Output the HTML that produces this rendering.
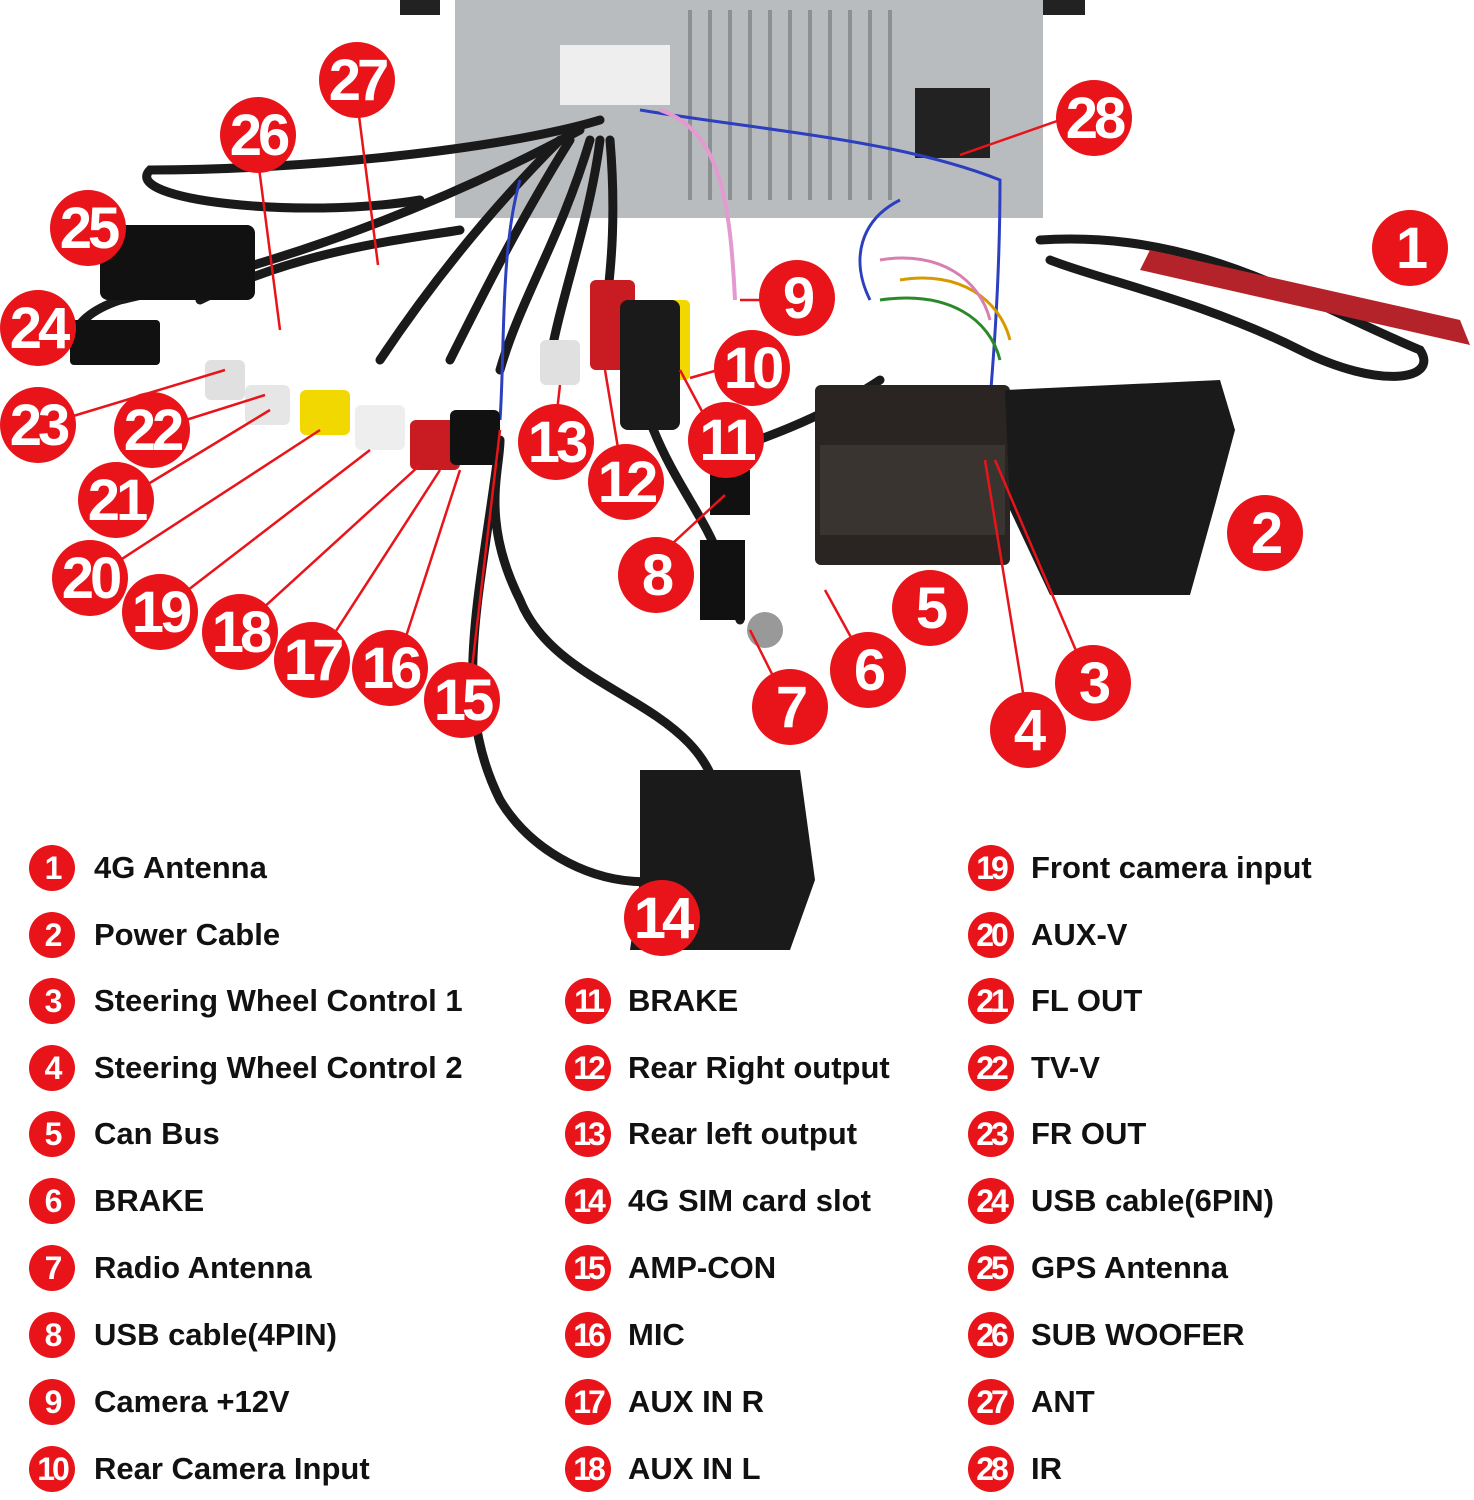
<!DOCTYPE html>
<html><head><meta charset="utf-8"><style>
html,body{margin:0;padding:0;background:#fff;}
body{width:1474px;height:1500px;position:relative;overflow:hidden;font-family:"Liberation Sans",sans-serif;}
svg{position:absolute;left:0;top:0;}
.lg{position:absolute;font-weight:bold;font-size:31px;color:#111;white-space:nowrap;transform:scaleX(1.0);transform-origin:left center;line-height:36px;}
.c{position:absolute;width:46px;height:46px;border-radius:50%;background:#e8141a;color:#fff;font-weight:bold;font-size:32px;text-align:center;line-height:46px;letter-spacing:-3px;}
</style></head><body>
<svg width="1474" height="1500" viewBox="0 0 1474 1500">
<rect x="400" y="0" width="40" height="15" fill="#222"/>
<rect x="1040" y="0" width="45" height="15" fill="#222"/>
<rect x="455" y="0" width="588" height="218" fill="#b9bcbf"/>
<g stroke="#8d9093" stroke-width="4">
<line x1="690" y1="10" x2="690" y2="200"/><line x1="710" y1="10" x2="710" y2="200"/><line x1="730" y1="10" x2="730" y2="200"/>
<line x1="750" y1="10" x2="750" y2="200"/><line x1="770" y1="10" x2="770" y2="200"/><line x1="790" y1="10" x2="790" y2="200"/>
<line x1="810" y1="10" x2="810" y2="200"/><line x1="830" y1="10" x2="830" y2="200"/><line x1="850" y1="10" x2="850" y2="200"/>
<line x1="870" y1="10" x2="870" y2="200"/><line x1="890" y1="10" x2="890" y2="200"/>
</g>
<rect x="915" y="88" width="75" height="70" fill="#222"/>
<rect x="560" y="45" width="110" height="60" fill="#eee"/>
<g fill="none" stroke="#1a1a1a" stroke-width="9" stroke-linecap="round">
<path d="M600 120 C500 150 300 170 150 170 C120 200 300 220 420 200"/>
<path d="M580 130 C450 200 300 260 120 300 C60 320 60 360 120 360"/>
<path d="M560 140 C480 220 420 300 380 360"/>
<path d="M570 140 C520 220 480 300 450 360"/>
<path d="M590 140 C560 240 520 300 500 370"/>
<path d="M600 140 C590 220 560 300 550 360"/>
<path d="M610 140 C620 260 600 320 610 300"/>
<path d="M500 440 C480 600 450 700 500 800 C560 900 720 910 720 820 C720 700 560 700 520 600 C480 520 500 470 500 440"/>
<path d="M630 330 C640 450 700 500 720 560 L740 620"/>
<path d="M1040 240 C1200 230 1300 300 1420 350 C1440 380 1380 390 1300 350 C1200 300 1100 280 1050 260"/>
<path d="M200 300 C300 250 400 240 460 230"/>
<path d="M700 460 C760 440 820 420 880 380"/>
</g>
<g fill="none" stroke="#2b3fbf" stroke-width="3">
<path d="M640 110 C760 130 900 140 1000 180 C1000 300 990 400 985 460"/>
<path d="M900 200 C860 220 850 260 870 300"/>
<path d="M520 180 C500 250 505 350 500 420"/>
</g>
<g fill="none" stroke-width="3"><path d="M900 280 C960 270 1000 300 1010 340" stroke="#d59a00"/><path d="M880 300 C950 290 990 320 1000 360" stroke="#2a8a2a"/><path d="M880 260 C940 250 980 280 990 320" stroke="#d77fb0"/></g>
<path d="M660 110 C720 130 730 200 735 300" stroke="#e49ad0" stroke-width="4" fill="none"/>
<path d="M1150 250 L1460 320 L1470 345 L1140 270 Z" fill="#b4232a"/>
<rect x="100" y="225" width="155" height="75" rx="8" fill="#111"/>
<rect x="70" y="320" width="90" height="45" rx="4" fill="#111"/>
<rect x="815" y="385" width="195" height="180" rx="6" fill="#2a2522"/>
<rect x="820" y="445" width="185" height="90" fill="#3a3431"/>
<path d="M1005 390 L1220 380 L1235 430 L1215 505 L1190 595 L1050 595 L1010 510 Z" fill="#1a1a1a"/>
<g>
<rect x="205" y="360" width="40" height="40" rx="6" fill="#e0e0e0"/>
<rect x="245" y="385" width="45" height="40" rx="6" fill="#e6e6e6"/>
<rect x="300" y="390" width="50" height="45" rx="6" fill="#f0d800"/>
<rect x="355" y="405" width="50" height="45" rx="6" fill="#eee"/>
<rect x="410" y="420" width="50" height="50" rx="6" fill="#c81b22"/>
<rect x="450" y="410" width="50" height="55" rx="6" fill="#111"/>
<rect x="540" y="340" width="40" height="45" rx="6" fill="#e0e0e0"/>
<rect x="590" y="280" width="45" height="90" rx="6" fill="#c81b22"/>
<rect x="660" y="300" width="30" height="80" rx="5" fill="#f0d800"/>
<rect x="620" y="300" width="60" height="130" rx="8" fill="#1a1a1a"/>
<rect x="700" y="540" width="45" height="80" fill="#111"/>
<circle cx="765" cy="630" r="18" fill="#999"/>
<rect x="710" y="470" width="40" height="45" fill="#111"/>
</g>
<path d="M640 770 L800 770 L815 880 L790 950 L630 950 L640 880 Z" fill="#1a1a1a"/>
<g stroke="#e8141a" stroke-width="2.5" fill="none">
<line x1="357" y1="100" x2="378" y2="265"/><line x1="258" y1="160" x2="280" y2="330"/>
<line x1="60" y1="420" x2="225" y2="370"/><line x1="170" y1="425" x2="265" y2="395"/>
<line x1="130" y1="495" x2="270" y2="410"/><line x1="105" y1="570" x2="320" y2="430"/>
<line x1="175" y1="600" x2="370" y2="450"/><line x1="250" y1="620" x2="420" y2="465"/>
<line x1="325" y1="648" x2="440" y2="470"/><line x1="400" y1="655" x2="460" y2="470"/>
<line x1="470" y1="685" x2="500" y2="430"/><line x1="556" y1="420" x2="560" y2="385"/>
<line x1="620" y1="460" x2="605" y2="370"/><line x1="712" y1="430" x2="680" y2="370"/>
<line x1="725" y1="368" x2="690" y2="378"/><line x1="770" y1="300" x2="740" y2="300"/>
<line x1="1060" y1="120" x2="960" y2="155"/><line x1="660" y1="555" x2="725" y2="495"/>
<line x1="780" y1="690" x2="750" y2="630"/><line x1="858" y1="650" x2="825" y2="590"/>
<line x1="1025" y1="705" x2="985" y2="460"/><line x1="1080" y1="660" x2="995" y2="460"/>
</g>
<g font-family="Liberation Sans,sans-serif" font-weight="bold" font-size="58" fill="#fff" text-anchor="middle" letter-spacing="-4">
<g fill="#e8141a">
<circle cx="357" cy="80" r="38"/><circle cx="258" cy="135" r="38"/><circle cx="88" cy="228" r="38"/>
<circle cx="38" cy="328" r="38"/><circle cx="38" cy="425" r="38"/><circle cx="152" cy="430" r="38"/>
<circle cx="116" cy="500" r="38"/><circle cx="90" cy="578" r="38"/><circle cx="160" cy="612" r="38"/>
<circle cx="240" cy="632" r="38"/><circle cx="312" cy="660" r="38"/><circle cx="390" cy="668" r="38"/>
<circle cx="462" cy="700" r="38"/><circle cx="556" cy="442" r="38"/><circle cx="626" cy="482" r="38"/>
<circle cx="726" cy="440" r="38"/><circle cx="752" cy="368" r="38"/><circle cx="797" cy="298" r="38"/>
<circle cx="1094" cy="118" r="38"/><circle cx="1410" cy="248" r="38"/><circle cx="1265" cy="533" r="38"/>
<circle cx="656" cy="575" r="38"/><circle cx="790" cy="707" r="38"/><circle cx="868" cy="670" r="38"/>
<circle cx="930" cy="608" r="38"/><circle cx="1028" cy="730" r="38"/><circle cx="1093" cy="683" r="38"/>
<circle cx="662" cy="918" r="38"/>
</g>
<text x="357" y="100">27</text><text x="258" y="155">26</text><text x="88" y="248">25</text>
<text x="38" y="348">24</text><text x="38" y="445">23</text><text x="152" y="450">22</text>
<text x="116" y="520">21</text><text x="90" y="598">20</text><text x="160" y="632">19</text>
<text x="240" y="652">18</text><text x="312" y="680">17</text><text x="390" y="688">16</text>
<text x="462" y="720">15</text><text x="556" y="462">13</text><text x="626" y="502">12</text>
<text x="726" y="460">11</text><text x="752" y="388">10</text><text x="797" y="318">9</text>
<text x="1094" y="138">28</text><text x="1410" y="268">1</text><text x="1265" y="553">2</text>
<text x="656" y="595">8</text><text x="790" y="727">7</text><text x="868" y="690">6</text>
<text x="930" y="628">5</text><text x="1028" y="750">4</text><text x="1093" y="703">3</text>
<text x="662" y="938">14</text>
</g>
</svg>

<div class="c" style="left:29px;top:845px">1</div><div class="lg" style="left:94px;top:850px">4G Antenna</div>
<div class="c" style="left:29px;top:912px">2</div><div class="lg" style="left:94px;top:917px">Power Cable</div>
<div class="c" style="left:29px;top:978px">3</div><div class="lg" style="left:94px;top:983px">Steering Wheel Control 1</div>
<div class="c" style="left:29px;top:1045px">4</div><div class="lg" style="left:94px;top:1050px">Steering Wheel Control 2</div>
<div class="c" style="left:29px;top:1111px">5</div><div class="lg" style="left:94px;top:1116px">Can Bus</div>
<div class="c" style="left:29px;top:1178px">6</div><div class="lg" style="left:94px;top:1183px">BRAKE</div>
<div class="c" style="left:29px;top:1245px">7</div><div class="lg" style="left:94px;top:1250px">Radio Antenna</div>
<div class="c" style="left:29px;top:1312px">8</div><div class="lg" style="left:94px;top:1317px">USB cable(4PIN)</div>
<div class="c" style="left:29px;top:1379px">9</div><div class="lg" style="left:94px;top:1384px">Camera +12V</div>
<div class="c" style="left:29px;top:1446px">10</div><div class="lg" style="left:94px;top:1451px">Rear Camera Input</div>

<div class="c" style="left:565px;top:978px">11</div><div class="lg" style="left:628px;top:983px">BRAKE</div>
<div class="c" style="left:565px;top:1045px">12</div><div class="lg" style="left:628px;top:1050px">Rear Right output</div>
<div class="c" style="left:565px;top:1111px">13</div><div class="lg" style="left:628px;top:1116px">Rear left output</div>
<div class="c" style="left:565px;top:1178px">14</div><div class="lg" style="left:628px;top:1183px">4G SIM card slot</div>
<div class="c" style="left:565px;top:1245px">15</div><div class="lg" style="left:628px;top:1250px">AMP-CON</div>
<div class="c" style="left:565px;top:1312px">16</div><div class="lg" style="left:628px;top:1317px">MIC</div>
<div class="c" style="left:565px;top:1379px">17</div><div class="lg" style="left:628px;top:1384px">AUX IN R</div>
<div class="c" style="left:565px;top:1446px">18</div><div class="lg" style="left:628px;top:1451px">AUX IN L</div>

<div class="c" style="left:968px;top:845px">19</div><div class="lg" style="left:1031px;top:850px">Front camera input</div>
<div class="c" style="left:968px;top:912px">20</div><div class="lg" style="left:1031px;top:917px">AUX-V</div>
<div class="c" style="left:968px;top:978px">21</div><div class="lg" style="left:1031px;top:983px">FL OUT</div>
<div class="c" style="left:968px;top:1045px">22</div><div class="lg" style="left:1031px;top:1050px">TV-V</div>
<div class="c" style="left:968px;top:1111px">23</div><div class="lg" style="left:1031px;top:1116px">FR OUT</div>
<div class="c" style="left:968px;top:1178px">24</div><div class="lg" style="left:1031px;top:1183px">USB cable(6PIN)</div>
<div class="c" style="left:968px;top:1245px">25</div><div class="lg" style="left:1031px;top:1250px">GPS Antenna</div>
<div class="c" style="left:968px;top:1312px">26</div><div class="lg" style="left:1031px;top:1317px">SUB WOOFER</div>
<div class="c" style="left:968px;top:1379px">27</div><div class="lg" style="left:1031px;top:1384px">ANT</div>
<div class="c" style="left:968px;top:1446px">28</div><div class="lg" style="left:1031px;top:1451px">IR</div>
</body></html>
